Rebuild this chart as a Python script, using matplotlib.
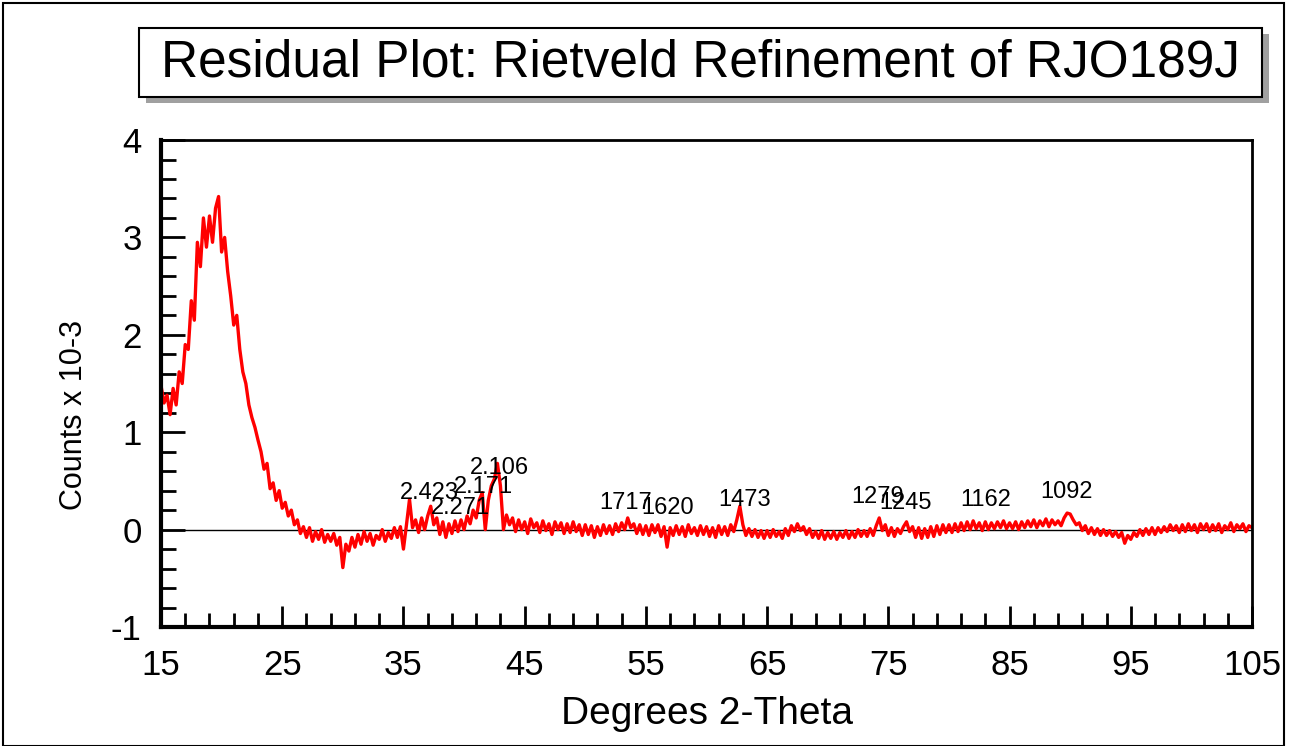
"""Residual plot of a Rietveld refinement (RJO189J)."""

from matplotlib import pyplot
from matplotlib.patches import Rectangle
from matplotlib.ticker import FixedLocator, MultipleLocator
import numpy

# 2-theta grid start/step for the residual trace (0.25 deg per value)
theta_start = 15.0
theta_step = 0.25

# residual counts (x 10^3), four values per degree
residual = [
    1.48, 1.30, 1.38, 1.18,   # 15
    1.45, 1.28, 1.62, 1.50,   # 16
    1.90, 1.85, 2.35, 2.15,   # 17
    2.95, 2.70, 3.20, 2.90,   # 18
    3.22, 2.95, 3.30, 3.42,   # 19
    2.85, 3.00, 2.65, 2.40,   # 20
    2.10, 2.20, 1.85, 1.62,   # 21
    1.50, 1.28, 1.15, 1.05,   # 22
    0.92, 0.80, 0.62, 0.68,   # 23
    0.42, 0.48, 0.30, 0.40,   # 24
    0.22, 0.28, 0.14, 0.20,   # 25
    0.05, 0.10, -0.04, 0.03,  # 26
    -0.08, 0.02, -0.12, -0.02,  # 27
    -0.10, 0.00, -0.13, -0.05,  # 28
    -0.12, -0.04, -0.16, -0.08,  # 29
    -0.39, -0.15, -0.22, -0.08,  # 30
    -0.18, -0.05, -0.15, -0.02,  # 31
    -0.12, -0.04, -0.16, -0.06,  # 32
    -0.10, 0.00, -0.12, -0.03,  # 33
    -0.09, 0.02, -0.08, 0.03,   # 34
    -0.20, 0.05, 0.31, 0.02,    # 35
    0.10, -0.03, 0.12, 0.00,    # 36
    0.14, 0.24, 0.05, 0.12,     # 37
    -0.05, 0.08, -0.08, 0.06,   # 38
    -0.04, 0.09, -0.02, 0.10,   # 39
    0.00, 0.14, 0.06, 0.20,     # 40
    0.12, 0.30, 0.38, 0.00,     # 41
    0.30, 0.45, 0.52, 0.68,     # 42
    0.45, 0.00, 0.15, 0.05,     # 43
    0.12, -0.02, 0.10, 0.00,    # 44
    0.08, -0.04, 0.11, 0.02,    # 45
    0.07, -0.03, 0.09, -0.01,   # 46
    0.06, -0.05, 0.08, 0.00,    # 47
    0.07, -0.04, 0.06, -0.03,   # 48
    0.08, -0.02, 0.05, -0.06,   # 49
    0.05, -0.05, 0.04, -0.08,   # 50
    0.03, -0.06, 0.05, -0.04,   # 51
    0.04, -0.05, 0.06, -0.02,   # 52
    0.07, 0.00, 0.12, 0.02,     # 53
    0.06, -0.04, 0.05, -0.05,   # 54
    0.04, -0.06, 0.05, -0.03,   # 55
    0.05, -0.07, 0.03, -0.18,   # 56
    0.02, -0.06, 0.04, -0.05,   # 57
    0.03, -0.07, 0.05, -0.04,   # 58
    0.02, -0.06, 0.04, -0.05,   # 59
    0.03, -0.07, 0.02, -0.08,   # 60
    0.04, -0.05, 0.03, -0.06,   # 61
    0.05, -0.02, 0.10, 0.24,    # 62
    0.05, -0.06, 0.01, -0.07,   # 63
    0.00, -0.08, -0.01, -0.09,  # 64
    -0.01, -0.08, 0.00, -0.07,  # 65
    -0.02, -0.09, 0.01, -0.06,  # 66
    0.04, -0.02, 0.06, -0.01,   # 67
    0.03, -0.05, 0.01, -0.08,   # 68
    -0.02, -0.09, -0.01, -0.10,  # 69
    -0.03, -0.09, -0.02, -0.10,  # 70
    -0.03, -0.08, -0.01, -0.09,  # 71
    -0.02, -0.08, 0.00, -0.07,  # 72
    -0.01, -0.07, 0.01, -0.06,  # 73
    0.04, 0.12, -0.01, 0.05,    # 74
    -0.06, 0.02, -0.07, 0.01,   # 75
    -0.04, 0.03, 0.08, -0.02,   # 76
    0.03, -0.08, 0.02, -0.09,   # 77
    0.01, -0.08, 0.03, -0.07,   # 78
    0.04, -0.05, 0.05, -0.03,   # 79
    0.05, -0.03, 0.06, -0.02,   # 80
    0.07, -0.01, 0.08, 0.00,    # 81
    0.09, 0.01, 0.07, -0.01,    # 82
    0.08, 0.00, 0.07, 0.01,     # 83
    0.08, 0.02, 0.09, 0.01,     # 84
    0.07, 0.01, 0.08, 0.00,     # 85
    0.08, 0.02, 0.09, 0.03,     # 86
    0.10, 0.02, 0.09, 0.04,     # 87
    0.11, 0.03, 0.10, 0.05,     # 88
    0.09, 0.04, 0.12, 0.17,     # 89
    0.16, 0.10, 0.05, 0.07,     # 90
    -0.01, 0.04, -0.04, 0.02,   # 91
    -0.05, 0.01, -0.06, 0.00,   # 92
    -0.06, -0.01, -0.07, -0.02,  # 93
    -0.08, -0.03, -0.14, -0.06,  # 94
    -0.10, -0.03, -0.07, 0.00,  # 95
    -0.06, 0.01, -0.05, 0.02,   # 96
    -0.05, 0.02, -0.03, 0.03,   # 97
    -0.02, 0.05, -0.01, 0.04,   # 98
    -0.03, 0.05, -0.02, 0.06,   # 99
    -0.01, 0.05, -0.03, 0.06,   # 100
    0.00, 0.06, -0.02, 0.05,    # 101
    -0.01, 0.06, -0.03, 0.04,   # 102
    0.00, 0.07, -0.02, 0.05,    # 103
    0.01, 0.06, -0.02, 0.04,    # 104
    0.02,                       # 105
]

# peak labels (d-spacings) and where they sit on the chart
peak_labels = ['2.423', '2.271', '2.171', '2.106', '1717', '1620',
               '1473', '1279', '1245', '1162', '1092']
peak_theta = [37.1, 39.7, 41.6, 42.9, 53.3, 56.8, 63.1, 74.1, 76.4,
              83.0, 89.7]
peak_height = [0.38, 0.22, 0.44, 0.63, 0.27, 0.22, 0.30, 0.34, 0.27,
               0.30, 0.39]

x_ticks = [15, 25, 35, 45, 55, 65, 75, 85, 95, 105]
y_ticks = [-1, 0, 1, 2, 3, 4]

theta = theta_start + theta_step * numpy.arange(len(residual))

pyplot.rc('font', family=['Liberation Sans', 'DejaVu Sans'])
pyplot.rc('axes', unicode_minus=False)

fig = pyplot.figure(figsize=(12.89, 7.46), dpi=100)
ax = fig.add_axes([0.1249, 0.1595, 0.8464, 0.6528])

ax.axhline(0.0, color='black', linewidth=1.0, zorder=1)
ax.plot(theta, residual, color='#ff0000', linewidth=2.4, zorder=2)

for label, xp, yp in zip(peak_labels, peak_theta, peak_height):
    ax.text(xp, yp, label, ha='center', va='center', fontsize=17,
            color='black', zorder=3)

ax.set_xlim(15, 105)
ax.set_ylim(-1, 4)
ax.xaxis.set_major_locator(FixedLocator(x_ticks))
ax.xaxis.set_minor_locator(FixedLocator(numpy.arange(17, 105, 2)))
ax.yaxis.set_major_locator(FixedLocator(y_ticks))
ax.yaxis.set_minor_locator(MultipleLocator(0.2))
ax.tick_params(which='both', direction='in', top=False, right=False,
               width=2.0, color='black', labelsize=25)
ax.tick_params(which='major', length=17, pad=14)
ax.tick_params(which='minor', length=11)
ax.tick_params(axis='x', which='major', length=15, pad=16)
ax.tick_params(axis='x', which='minor', length=10)

for side in ['left', 'bottom']:
    ax.spines[side].set_linewidth(3.0)
for side in ['top', 'right']:
    ax.spines[side].set_linewidth(2.0)

ax.set_xlabel('Degrees 2-Theta', fontsize=28, labelpad=10)
ax.set_ylabel('Counts x 10-3', fontsize=22)
ax.yaxis.set_label_coords(-0.066, 0.435)

# title in a box with a drop shadow
box_x, box_y, box_w, box_h = 0.1078, 0.870, 0.8712, 0.092
shift_x, shift_y = 7 / 1289, 6 / 746
fig.patches.append(Rectangle((box_x + shift_x, box_y - shift_y), box_w, box_h,
                             transform=fig.transFigure, facecolor='#a0a0a0',
                             edgecolor='none', zorder=0))
fig.patches.append(Rectangle((box_x, box_y), box_w, box_h,
                             transform=fig.transFigure, facecolor='white',
                             edgecolor='black', linewidth=1.5, zorder=1))
fig.text(box_x + box_w / 2, box_y + box_h / 2,
         'Residual Plot: Rietveld Refinement of RJO189J',
         ha='center', va='center', fontsize=37, zorder=2)

# outer frame of the picture
fig.patches.append(Rectangle((0.002, 0.0), 0.994, 0.996,
                             transform=fig.transFigure, facecolor='none',
                             edgecolor='black', linewidth=1.5))

fig.savefig('out.png', dpi=100)
